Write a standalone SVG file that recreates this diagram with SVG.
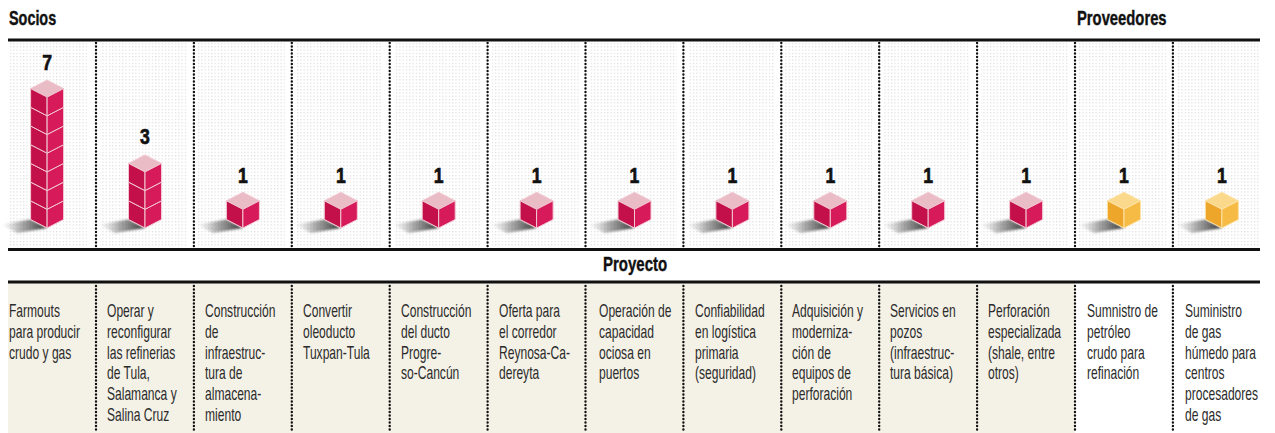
<svg xmlns="http://www.w3.org/2000/svg" width="1275" height="433" viewBox="0 0 1275 433">
<style>
.hdr{font-family:"Liberation Sans",Arial,sans-serif;font-weight:bold;font-size:20px;fill:#111;stroke:#111;stroke-width:0.4}
.num{font-family:"Liberation Sans",Arial,sans-serif;font-weight:bold;font-size:22px;fill:#111;stroke:#111;stroke-width:0.7;text-anchor:middle}
.lbl{font-family:"Liberation Sans",Arial,sans-serif;font-size:18px;fill:#2b2b2b}
.rule{stroke:#111;stroke-width:3;fill:none}
.dots{stroke:#111;stroke-width:2.4;stroke-linecap:round;stroke-dasharray:0 3.5;fill:none}
.grid{fill:url(#dotgrid)}
.edge{stroke:#f2c9d3;stroke-width:1;stroke-linejoin:round}
.edgeY{stroke:#fde2a6;stroke-width:1;stroke-linejoin:round}
.shadow{fill:url(#shadowGrad);filter:url(#blur)}
</style>
<defs>
<pattern id="dotgrid" width="3.3" height="3.3" patternUnits="userSpaceOnUse">
<rect x="0" y="0" width="1.2" height="1.2" fill="#dcdcdc"/>
</pattern>
<linearGradient id="shadowGrad" x1="1" y1="0" x2="0" y2="0">
<stop offset="0" stop-color="#222" stop-opacity="0.95"/>
<stop offset="0.55" stop-color="#666" stop-opacity="0.55"/>
<stop offset="1" stop-color="#aaa" stop-opacity="0"/>
</linearGradient>
<filter id="blur" x="-20%" y="-50%" width="140%" height="200%"><feGaussianBlur stdDeviation="1.2"/></filter>
<g id="cubeR">
<polygon class="edge" points="0,0 16.5,8.5 0,17 -16.5,8.5" fill="#e9bcc6"/>
<polygon class="edge" points="-16.5,8.5 0,17 0,35.7 -16.5,27.2" fill="#c3104a"/>
<polygon class="edge" points="0,17 16.5,8.5 16.5,27.2 0,35.7" fill="#d61a5a"/>
</g>
<g id="cubeY">
<polygon class="edgeY" points="0,0 16.5,8.5 0,17 -16.5,8.5" fill="#fbd98c"/>
<polygon class="edgeY" points="-16.5,8.5 0,17 0,35.7 -16.5,27.2" fill="#eea62a"/>
<polygon class="edgeY" points="0,17 16.5,8.5 16.5,27.2 0,35.7" fill="#f6bb45"/>
</g>
<polygon id="shd" class="shadow" points="-16.5,-8.5 0,0 -30,5 -46.5,-3.5"/>
</defs>

<rect x="0" y="0" width="1275" height="433" fill="#ffffff"/>

<g id="headers">
<text class="hdr" transform="translate(9,25) scale(0.72,1)">Socios</text>
<text class="hdr" transform="translate(1077,25) scale(0.74,1)">Proveedores</text>
<text class="hdr" transform="translate(603,271) scale(0.75,1)">Proyecto</text>
</g>

<g id="panels">
<rect x="8" y="283" width="1067" height="150" fill="#f4f1e6"/>
<rect x="10" y="42" width="77" height="204" class="grid"/>
<rect x="100" y="42" width="87" height="204" class="grid"/>
<rect x="198" y="42" width="87" height="204" class="grid"/>
<rect x="296" y="42" width="87" height="204" class="grid"/>
<rect x="394" y="42" width="87" height="204" class="grid"/>
<rect x="492" y="42" width="87" height="204" class="grid"/>
<rect x="590" y="42" width="87" height="204" class="grid"/>
<rect x="688" y="42" width="87" height="204" class="grid"/>
<rect x="785" y="42" width="87" height="204" class="grid"/>
<rect x="883" y="42" width="87" height="204" class="grid"/>
<rect x="981" y="42" width="87" height="204" class="grid"/>
<rect x="1079" y="42" width="87" height="204" class="grid"/>
<rect x="1177" y="42" width="83" height="204" class="grid"/>
</g>

<g id="connectors">
<line class="rule" x1="8" y1="40" x2="1260" y2="40"/>
<line class="rule" x1="8" y1="249.5" x2="1260" y2="249.5"/>
<line class="rule" x1="8" y1="282" x2="1260" y2="282"/>
<path class="dots" d="M96,43V247M193.9,43V247M291.8,43V247M389.7,43V247M487.6,43V247M585.5,43V247M683.4,43V247M781.3,43V247M879.2,43V247M977.1,43V247M1075,43V247M1172.9,43V247"/>
<path class="dots" d="M96,286V433M193.9,286V433M291.8,286V433M389.7,286V433M487.6,286V433M585.5,286V433M683.4,286V433M781.3,286V433M879.2,286V433M977.1,286V433M1075,286V433M1172.9,286V433"/>
</g>

<g id="col1">
<use href="#shd" x="47.1" y="228"/>
<use href="#cubeR" x="47.1" y="192.3"/>
<use href="#cubeR" x="47.1" y="173.6"/>
<use href="#cubeR" x="47.1" y="154.9"/>
<use href="#cubeR" x="47.1" y="136.2"/>
<use href="#cubeR" x="47.1" y="117.5"/>
<use href="#cubeR" x="47.1" y="98.8"/>
<use href="#cubeR" x="47.1" y="80.1"/>
<text class="num" transform="translate(47.1,70) scale(0.8,1)">7</text>
<text class="lbl" transform="translate(9,317) scale(0.67,1)"><tspan x="0" y="0">Farmouts</tspan><tspan x="0" dy="20.8">para producir</tspan><tspan x="0" dy="20.8">crudo y gas</tspan></text>
</g>

<g id="col2">
<use href="#shd" x="145" y="228"/>
<use href="#cubeR" x="145" y="192.3"/>
<use href="#cubeR" x="145" y="173.6"/>
<use href="#cubeR" x="145" y="154.9"/>
<text class="num" transform="translate(145,144) scale(0.8,1)">3</text>
<text class="lbl" transform="translate(107,317) scale(0.67,1)"><tspan x="0" y="0">Operar y</tspan><tspan x="0" dy="20.8">reconfigurar</tspan><tspan x="0" dy="20.8">las refinerias</tspan><tspan x="0" dy="20.8">de Tula,</tspan><tspan x="0" dy="20.8">Salamanca y</tspan><tspan x="0" dy="20.8">Salina Cruz</tspan></text>
</g>

<g id="col3">
<use href="#shd" x="242.9" y="228"/>
<use href="#cubeR" x="242.9" y="192.3"/>
<text class="num" transform="translate(242.9,183) scale(0.8,1)">1</text>
<text class="lbl" transform="translate(205,317) scale(0.67,1)"><tspan x="0" y="0">Construcción</tspan><tspan x="0" dy="20.8">de</tspan><tspan x="0" dy="20.8">infraestruc-</tspan><tspan x="0" dy="20.8">tura de</tspan><tspan x="0" dy="20.8">almacena-</tspan><tspan x="0" dy="20.8">miento</tspan></text>
</g>

<g id="col4">
<use href="#shd" x="340.8" y="228"/>
<use href="#cubeR" x="340.8" y="192.3"/>
<text class="num" transform="translate(340.8,183) scale(0.8,1)">1</text>
<text class="lbl" transform="translate(303,317) scale(0.67,1)"><tspan x="0" y="0">Convertir</tspan><tspan x="0" dy="20.8">oleoducto</tspan><tspan x="0" dy="20.8">Tuxpan-Tula</tspan></text>
</g>

<g id="col5">
<use href="#shd" x="438.7" y="228"/>
<use href="#cubeR" x="438.7" y="192.3"/>
<text class="num" transform="translate(438.7,183) scale(0.8,1)">1</text>
<text class="lbl" transform="translate(401,317) scale(0.67,1)"><tspan x="0" y="0">Construcción</tspan><tspan x="0" dy="20.8">del ducto</tspan><tspan x="0" dy="20.8">Progre-</tspan><tspan x="0" dy="20.8">so-Cancún</tspan></text>
</g>

<g id="col6">
<use href="#shd" x="536.6" y="228"/>
<use href="#cubeR" x="536.6" y="192.3"/>
<text class="num" transform="translate(536.6,183) scale(0.8,1)">1</text>
<text class="lbl" transform="translate(499,317) scale(0.67,1)"><tspan x="0" y="0">Oferta para</tspan><tspan x="0" dy="20.8">el corredor</tspan><tspan x="0" dy="20.8">Reynosa-Ca-</tspan><tspan x="0" dy="20.8">dereyta</tspan></text>
</g>

<g id="col7">
<use href="#shd" x="634.5" y="228"/>
<use href="#cubeR" x="634.5" y="192.3"/>
<text class="num" transform="translate(634.5,183) scale(0.8,1)">1</text>
<text class="lbl" transform="translate(599,317) scale(0.67,1)"><tspan x="0" y="0">Operación de</tspan><tspan x="0" dy="20.8">capacidad</tspan><tspan x="0" dy="20.8">ociosa en</tspan><tspan x="0" dy="20.8">puertos</tspan></text>
</g>

<g id="col8">
<use href="#shd" x="732.4" y="228"/>
<use href="#cubeR" x="732.4" y="192.3"/>
<text class="num" transform="translate(732.4,183) scale(0.8,1)">1</text>
<text class="lbl" transform="translate(695,317) scale(0.67,1)"><tspan x="0" y="0">Confiabilidad</tspan><tspan x="0" dy="20.8">en logística</tspan><tspan x="0" dy="20.8">primaria</tspan><tspan x="0" dy="20.8">(seguridad)</tspan></text>
</g>

<g id="col9">
<use href="#shd" x="830.3" y="228"/>
<use href="#cubeR" x="830.3" y="192.3"/>
<text class="num" transform="translate(830.3,183) scale(0.8,1)">1</text>
<text class="lbl" transform="translate(792,317) scale(0.67,1)"><tspan x="0" y="0">Adquisición y</tspan><tspan x="0" dy="20.8">moderniza-</tspan><tspan x="0" dy="20.8">ción de</tspan><tspan x="0" dy="20.8">equipos de</tspan><tspan x="0" dy="20.8">perforación</tspan></text>
</g>

<g id="col10">
<use href="#shd" x="928.2" y="228"/>
<use href="#cubeR" x="928.2" y="192.3"/>
<text class="num" transform="translate(928.2,183) scale(0.8,1)">1</text>
<text class="lbl" transform="translate(890,317) scale(0.67,1)"><tspan x="0" y="0">Servicios en</tspan><tspan x="0" dy="20.8">pozos</tspan><tspan x="0" dy="20.8">(infraestruc-</tspan><tspan x="0" dy="20.8">tura básica)</tspan></text>
</g>

<g id="col11">
<use href="#shd" x="1026.1" y="228"/>
<use href="#cubeR" x="1026.1" y="192.3"/>
<text class="num" transform="translate(1026.1,183) scale(0.8,1)">1</text>
<text class="lbl" transform="translate(988,317) scale(0.67,1)"><tspan x="0" y="0">Perforación</tspan><tspan x="0" dy="20.8">especializada</tspan><tspan x="0" dy="20.8">(shale, entre</tspan><tspan x="0" dy="20.8">otros)</tspan></text>
</g>

<g id="col12">
<use href="#shd" x="1124" y="228"/>
<use href="#cubeY" x="1124" y="192.3"/>
<text class="num" transform="translate(1124,183) scale(0.8,1)">1</text>
<text class="lbl" transform="translate(1087,317) scale(0.67,1)"><tspan x="0" y="0">Sumnistro de</tspan><tspan x="0" dy="20.8">petróleo</tspan><tspan x="0" dy="20.8">crudo para</tspan><tspan x="0" dy="20.8">refinación</tspan></text>
</g>

<g id="col13">
<use href="#shd" x="1221.9" y="228"/>
<use href="#cubeY" x="1221.9" y="192.3"/>
<text class="num" transform="translate(1221.9,183) scale(0.8,1)">1</text>
<text class="lbl" transform="translate(1185,317) scale(0.67,1)"><tspan x="0" y="0">Suministro</tspan><tspan x="0" dy="20.8">de gas</tspan><tspan x="0" dy="20.8">húmedo para</tspan><tspan x="0" dy="20.8">centros</tspan><tspan x="0" dy="20.8">procesadores</tspan><tspan x="0" dy="20.8">de gas</tspan></text>
</g>
</svg>
